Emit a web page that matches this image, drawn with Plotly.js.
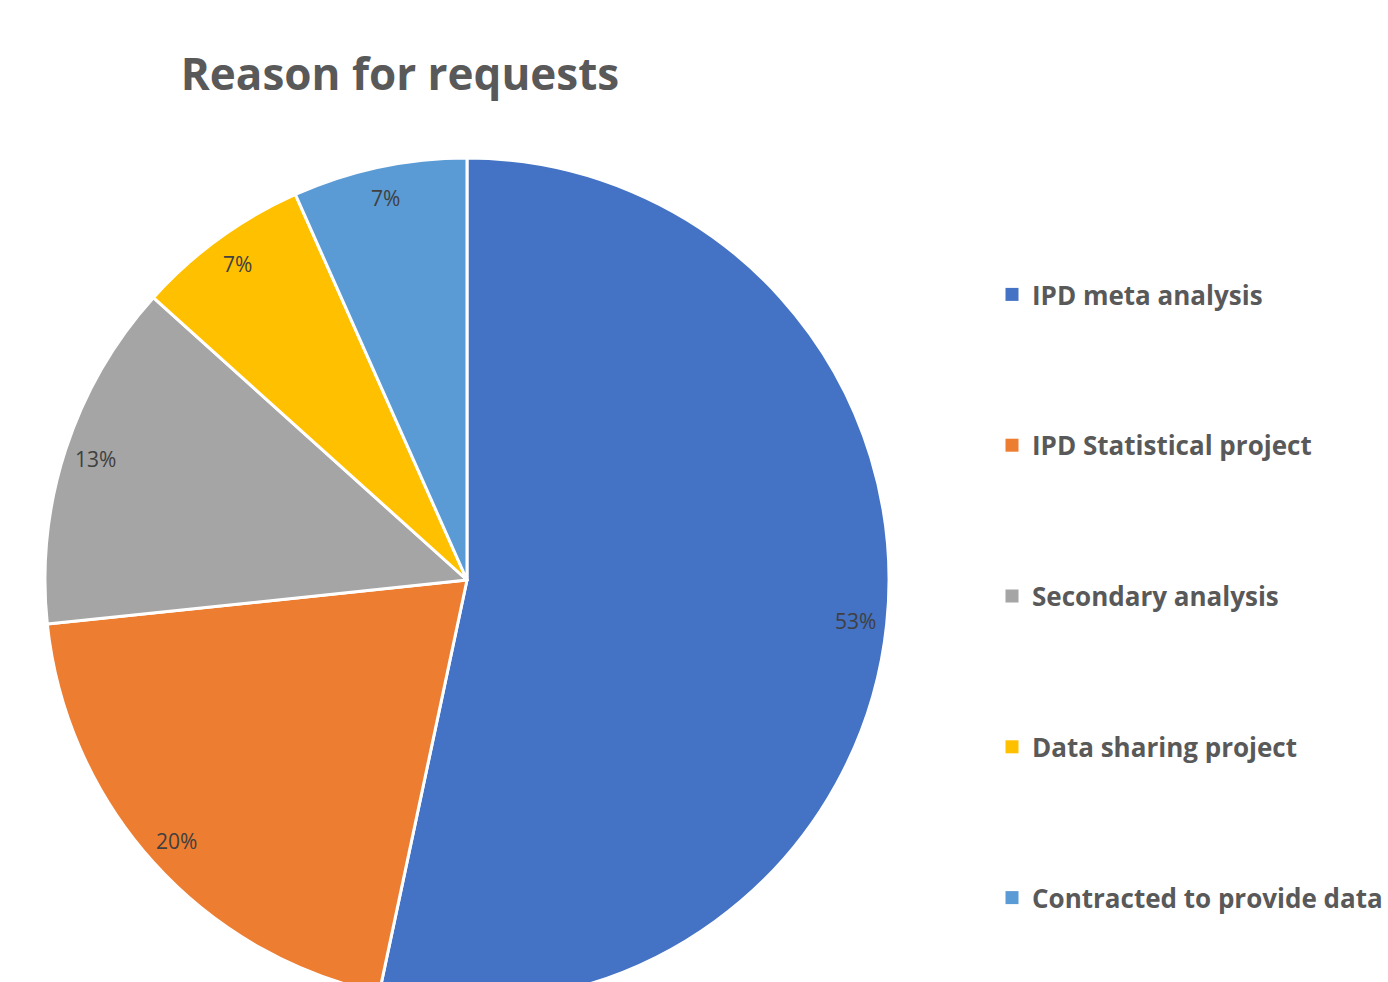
<!DOCTYPE html>
<html>
<head>
<meta charset="utf-8">
<script src="https://cdn.plot.ly/plotly-3.0.1.min.js"></script>
<style>
  html, body { margin: 0; padding: 0; overflow: hidden; background: #ffffff; width: 1388px; height: 982px; }
  #wrap { position: fixed; left: 0; top: 0; width: 1388px; height: 982px; overflow: hidden; }
  #chart { position: absolute; left: 0; top: 0; width: 1388px; height: 1010px; }
</style>
</head>
<body>
<div id="wrap"><div id="chart"></div></div>
<script>
const categories = ["IPD meta analysis", "IPD Statistical project", "Secondary analysis", "Data sharing project", "Contracted to provide data"];
const counts = [8, 3, 2, 1, 1];
const colors = ["#4472C4", "#ED7D31", "#A5A5A5", "#FFC000", "#5B9BD5"];

const W = 1388, H = 1010;
// pie geometry (pixels)
const cx = 467, cy = 580, R = 422;
const domX = [(cx - R) / W, (cx + R) / W];
const domY = [1 - (cy + R) / H, 1 - (cy - R) / H];

const total = counts.reduce((a, b) => a + b, 0);
const pct = counts.map(v => Math.round(v / total * 100) + "%");

// label annotations at "inside end" positions (derived from data angles)
const annotations = [];
let acc = 0;
const rl = 0.925 * R;
counts.forEach((v, i) => {
  const mid = (acc + v / 2) / total * 2 * Math.PI; // clockwise from 12 o'clock
  acc += v;
  const px = cx + rl * Math.sin(mid);
  const py = cy - rl * Math.cos(mid);
  annotations.push({
    xref: "paper", yref: "paper",
    x: px / W, y: 1 - py / H,
    xanchor: "center", yanchor: "middle",
    text: pct[i], showarrow: false,
    font: { family: "Open Sans", size: 21, color: "#404040" }
  });
});

const traces = [{
  type: "pie",
  labels: categories,
  values: counts,
  sort: false,
  direction: "clockwise",
  rotation: 0,
  textinfo: "none",
  hoverinfo: "label+percent",
  marker: { colors: colors, line: { color: "#ffffff", width: 3 } },
  domain: { x: domX, y: domY },
  showlegend: false
}];

categories.forEach((c, i) => {
  traces.push({
    type: "scatter", mode: "markers",
    x: [null], y: [null],
    name: c, legendgroup: "g" + i,
    marker: { symbol: "square", size: 13, color: colors[i] },
    hoverinfo: "skip"
  });
});

const layout = {
  width: W, height: H,
  autosize: false,
  margin: { l: 0, r: 0, t: 0, b: 0 },
  paper_bgcolor: "#ffffff",
  plot_bgcolor: "#ffffff",
  title: {
    text: "<b>Reason for requests</b>",
    font: { family: "Open Sans", size: 44, color: "#595959" },
    x: 400 / W, xanchor: "center", xref: "paper",
    y: 1 - 75 / H, yanchor: "middle", yref: "container"
  },
  xaxis: { visible: false },
  yaxis: { visible: false },
  showlegend: true,
  legend: {
    x: 992 / W, xanchor: "left",
    y: 1 - 271 / H, yanchor: "top",
    font: { family: "Open Sans", size: 26, color: "#595959", weight: "bold" },
    tracegroupgap: 114,
    bgcolor: "rgba(0,0,0,0)",
    itemclick: false, itemdoubleclick: false
  },
  annotations: annotations
};

Plotly.newPlot("chart", traces, layout, { displayModeBar: false, staticPlot: true, responsive: false });
</script>
</body>
</html>
